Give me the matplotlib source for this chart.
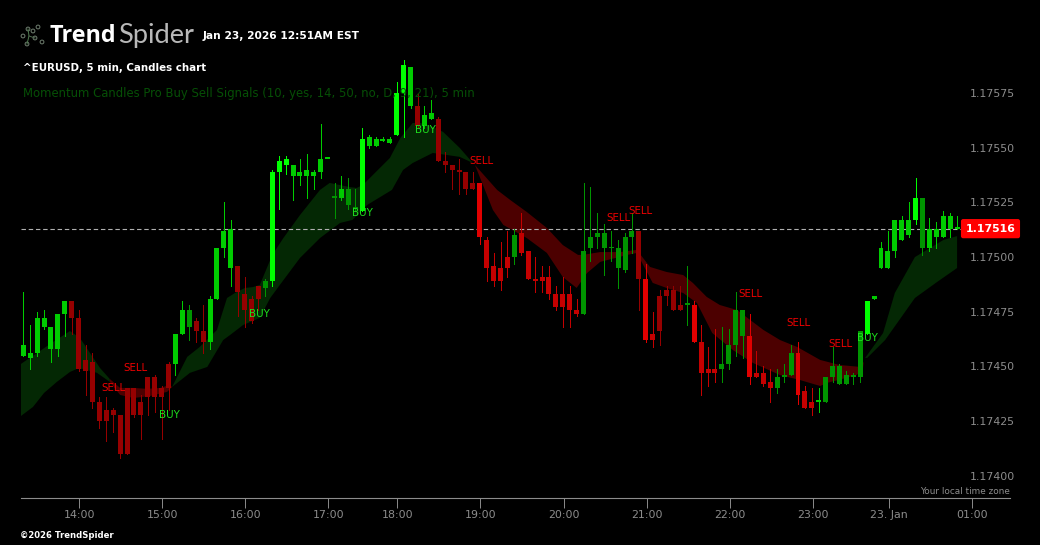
import matplotlib
matplotlib.use('Agg')
import matplotlib.pyplot as plt
import numpy as np
from matplotlib.patches import Circle

# prices are stored in 1e-5 above 1.17000
BASE = 1.17

opens = [455,454,456,468,458,458,474,480,472,453,
         452,434,430,430,428,440,440,434,445,445,
         440,451,451,465,468,471,466,461,481,504,
         495,496,483,481,487,486,489,539,542,537,
         537,537,537,539,545,527,527,524,522,521,
         551,551,553,552,556,575,569,569,560,563,
         563,544,542,540,539,534,534,508,496,495,
         500,500,511,503,490,491,491,483,483,483,
         476,474,504,509,504,504,495,494,509,512,
         490,465,482,485,485,478,478,478,461,449,
         449,449,451,460,464,464,447,447,443,440,
         445,446,456,439,434,434,434,445,442,442,
         445,445,465,481,495,495,503,508,510,517,
         504,504,509,509,513,513]
closes = [460,456,472,472,468,474,480,472,449,448,
          434,425,425,428,410,410,428,428,436,436,
          436,440,465,476,476,466,461,481,504,512,
          513,484,476,471,481,489,539,544,545,542,
          539,540,539,545,545,528,531,531,523,554,
          555,554,554,554,575,588,587,560,565,566,
          544,542,540,539,531,531,509,495,489,489,
          495,510,502,490,489,489,483,477,477,476,
          474,503,509,511,511,504,504,509,512,490,
          462,462,466,482,476,476,478,461,447,447,
          447,451,460,476,476,445,445,442,440,445,
          446,456,437,431,431,434,445,450,450,446,
          446,466,480,482,504,503,517,517,517,527,
          527,513,513,519,519,513]
highs = [484,469,475,476,468,474,480,480,476,460,
         456,436,436,431,428,440,440,437,445,446,
         441,452,465,480,478,472,478,482,504,525,
         517,496,491,482,487,490,540,546,546,542,
         545,547,540,561,545,534,537,536,531,559,
         556,555,555,555,580,590,587,575,569,572,
         564,548,542,545,539,539,534,509,502,507,
         512,513,520,503,500,496,496,487,491,487,
         481,534,532,520,515,512,508,511,520,512,
         497,475,485,487,487,487,496,480,469,459,
         467,468,467,484,476,474,457,450,449,449,
         451,460,461,441,440,440,445,459,451,448,
         447,466,480,482,507,512,517,519,525,536,
         527,518,516,521,520,519]
lows = [455,449,455,467,452,455,464,465,448,437,
        431,422,416,420,408,410,427,417,428,429,
        417,430,446,465,462,461,456,458,481,500,
        487,473,468,470,476,482,487,522,538,526,
        533,527,531,536,545,518,526,522,521,521,
        550,551,553,552,556,555,568,559,559,563,
        544,539,531,529,529,531,506,489,487,485,
        491,497,501,490,484,484,481,476,468,468,
        473,474,498,504,492,498,486,493,502,476,
        461,459,460,478,476,476,469,461,437,441,
        443,443,449,455,454,442,445,441,434,438,
        443,446,433,431,428,429,434,443,442,442,
        442,443,465,481,495,495,500,508,509,515,
        501,503,504,509,509,513]
# momentum strength per candle, 1 weak .. 3 strong
momentum = [2,2,2,2,2,2,2,1,1,1,
            1,1,1,1,1,1,1,1,1,1,
            1,1,2,2,1,1,1,2,2,2,
            2,1,1,1,1,1,3,3,3,2,
            2,2,2,2,2,1,2,1,1,3,
            2,2,2,2,3,3,2,1,2,2,
            1,1,1,1,1,1,3,2,2,2,
            2,1,2,2,2,2,2,2,2,2,
            2,1,1,1,1,1,1,1,1,1,
            3,2,1,1,1,1,1,3,2,2,
            2,1,1,1,1,3,2,2,2,1,
            1,1,3,2,2,2,1,1,1,1,
            1,1,3,2,2,2,2,2,2,3,
            1,2,2,2,2,2]

# cloud edges: (candle position, price) per stretch
green1_top_x = [-0.33,2,4.3,6.75,8.2,9.64,11.1,12.5]
green1_top = [451.2,456.2,461.2,466.2,463.0,456.2,449.3,444.3]
green1_bot_x = [-0.33,1.4,3.0,4.87,6.75,7.76,8.63,10.65,12.5]
green1_bot = [427.4,431.5,437.9,443.0,447.5,448.9,448.9,447.1,443.0]
red1_top_x = [12.5,14,15.9,17.9,19.8,21.2]
red1_top = [444.3,440.2,440.2,439.8,440.2,441.6]
red1_bot_x = [12.5,14,15.9,18.3,20.8,21.5]
red1_bot = [443,437,435.6,436.5,438.4,440.6]
green2_top_x = [21.5,23.7,25.5,28,29.45,30.6,32.05,33.2,34.2,36,37.6,40,42.9,44.3,47.2,48.2,49.1,
                53,54.5,56.3,57.4,59.2,60.7,63.1,65]
green2_top = [440.6,454.4,458.9,466.7,481.3,483.6,485.9,486.3,487.3,501,508.7,519.2,530.7,533.9,532,
              531.6,533,545.3,554.4,561.3,561.3,559.5,557.2,549.9,543]
green2_bot_x = [21.5,24.1,26.6,28.9,29.9,31.8,34.2,35.7,37.1,40,42.9,45.8,47.6,49.7,53.3,54.9,56.3,
                59.2,63.1,65]
green2_bot = [440.6,447.1,449.8,462.1,464.4,469,472.2,481.3,487.3,499.6,508.7,515.6,517,523.8,530.7,
              539.8,543,547.6,545.8,543]
red2_top_x = [65.3,68.5,70.4,72.8,75.7,78,80.2,80.9,83.4,86.3,88.7,90.6,93,95.4,96.8,98.8,100.7,103.2,
              107,109.4,111.9,115.2,118,121,121.5]
red2_top = [542.1,530.7,526.1,520.6,513.3,505.5,501,501,502.3,502.3,503.3,495.5,493.2,491.8,488.2,481.8,
            478.1,475.8,466.7,462.1,458.9,453,450.7,449.8,452.1]
red2_bot_x = [65.3,67.9,69.4,72.8,75.7,78,80,81.5,83.4,87.3,88.7,91,93,95.4,97.4,99.6,102.6,105.5,109.4,
              112.3,115.2,116.2,120.5,121.4]
red2_bot = [542.1,521.5,514.7,508.7,501.9,490.9,485.9,492.7,497.8,501,501.9,488.2,485.9,483.6,479,465.3,
            457.5,451.6,446.1,443.8,441.1,442.5,446.1,449.3]
green3_top_x = [121.7,124.3,126,128.9,133,135]
green3_top = [453.9,465.3,483.6,500,507.8,509.6]
green3_bot_x = [122,124.6,128.9,132.1,135]
green3_bot = [453.9,462.1,481.3,488.6,495]

sell_x = [16.15,13,66.2,86.1,89.2,105.1,112.1,118.1]
sell_y = [449.3,440.2,544,518,521,483,470,460.3]
buy_x = [21.1,34.1,49,58.2,122.1]
buy_y = [428,474,520,558,463]

hour_pos = [8.1,20.1,32.1,44.1,54.1,66.1,78.1,90.1,102.15,114.15,125.1,137.15]
hour_labels = ['14:00','15:00','16:00','17:00','18:00','19:00','20:00','21:00','22:00','23:00','23. Jan','01:00']
price_ticks = [1.17400,1.17425,1.17450,1.17475,1.17500,1.17525,1.17550,1.17575]
last_line = 513

GREENS = {1:'#009400', 2:'#00cc00', 3:'#00ff00'}
REDS = {1:'#960000', 2:'#c40000', 3:'#e00000'}
CLOUD_G = '#042804'
CLOUD_R = '#4c0000'
GREY = '#8c8c8c'


def to_price(v):
    return BASE + np.asarray(v, dtype=float)*1e-5


fig = plt.figure(figsize=(10.4,5.45), dpi=100, facecolor='black')
ax = fig.add_axes([21/1040, 47/545, 989/1040, 498/545], facecolor='none')
ax.set_xlim(-0.33, 142.65)
ax.set_ylim(to_price(389.9), to_price(617.5))

for tx, t, bx, b, col in [(green1_top_x, green1_top, green1_bot_x, green1_bot, CLOUD_G),
                          (red1_top_x, red1_top, red1_bot_x, red1_bot, CLOUD_R),
                          (green2_top_x, green2_top, green2_bot_x, green2_bot, CLOUD_G),
                          (red2_top_x, red2_top, red2_bot_x, red2_bot, CLOUD_R),
                          (green3_top_x, green3_top, green3_bot_x, green3_bot, CLOUD_G)]:
    ax.fill(np.r_[tx, bx[::-1]], to_price(np.r_[t, b[::-1]]), color=col, lw=0, zorder=1)

ax.axhline(to_price(last_line), xmin=0, xmax=(962-21)/989, color='#b0b0b0', lw=0.8, dashes=(4,2.5), zorder=2)

idx = np.arange(len(opens))
o, c, h, l = map(np.array, (opens, closes, highs, lows))
cols = [GREENS[m] if c[i] >= o[i] else REDS[m] for i, m in enumerate(momentum)]
ax.vlines(idx, to_price(l), to_price(h), colors=cols, lw=0.72, zorder=3, snap=True, antialiased=False)
bot = np.minimum(o, c)
hgt = np.maximum(np.abs(c-o), 0.8)*1e-5
ax.bar(idx, hgt, bottom=to_price(bot), width=0.72, color=cols, lw=0, zorder=4)

for x, y in zip(sell_x, sell_y):
    ax.text(x, to_price(y), 'SELL', color='#ee0000', fontsize=7.4, ha='center', va='center', zorder=5)
for x, y in zip(buy_x, buy_y):
    ax.text(x, to_price(y), 'BUY', color='#1ee01e', fontsize=7.4, ha='center', va='center', zorder=5)

for s in ['top','left','right']:
    ax.spines[s].set_visible(False)
ax.spines['bottom'].set_color(GREY)
ax.spines['bottom'].set_linewidth(0.8)
ax.set_xticks(hour_pos)
ax.set_xticklabels(hour_labels)
ax.tick_params(axis='x', colors=GREY, labelsize=7.9, length=7, width=0.7, pad=2)
ax.yaxis.tick_right()
ax.set_yticks(price_ticks)
ax.set_yticklabels(['%.5f' % p for p in price_ticks], ha='left')
ax.tick_params(axis='y', colors=GREY, labelsize=7.9, length=0, pad=-28.8)

ax.text((990.5-21)/989, to_price(last_line), '1.17516', transform=ax.get_yaxis_transform(),
        color='white', fontsize=7.9, fontweight='bold', ha='center', va='center', zorder=7,
        bbox=dict(boxstyle='round,pad=0.42,rounding_size=0.2', fc='#ff0000', ec='none'))


def ftext(px, py, s, **kw):
    fig.text(px/1040, 1-py/545, s, va='center', **kw)


ftext(50, 36, 'Trend', color='white', fontsize=16.8, family='Open Sans', fontweight='bold')
ftext(118, 36, 'Spider', color='#b8b8b8', fontsize=19.6, family='Lato', fontweight='normal')
ftext(203, 36, 'Jan 23, 2026 12:51AM EST', color='white', fontsize=7.7, fontweight='bold')
ftext(23, 68, '^EURUSD, 5 min, Candles chart', color='white', fontsize=7.4, fontweight='bold')
ftext(23, 94, 'Momentum Candles Pro Buy Sell Signals (10, yes, 14, 50, no, D, 9, 21), 5 min',
      color='#064f06', fontsize=8.4, zorder=0)
ftext(20, 536, '\u00a92026 TrendSpider', color='white', fontsize=6.1, fontweight='bold')
ftext(1010, 492, 'Your local time zone', color=GREY, fontsize=6.4, ha='right')

# logo mark
overlay = fig.add_axes([0,0,1,1], facecolor='none')
overlay.set_xlim(0,1040)
overlay.set_ylim(545,0)
overlay.axis('off')
overlay.set_zorder(-1)
overlay.plot([27,29,28],[44,36,29], color='#4f7a4f', lw=0.7)
overlay.plot([29,35],[36,38], color='#4f6a4f', lw=0.7)
for cx, cy in [(23,36),(27,44),(28,29),(38,27),(42,42),(35,38),(33,31)]:
    overlay.add_patch(Circle((cx,cy), 1.9, fc='none', ec='#6f7f6f', lw=0.7))

fig.savefig('out.png', dpi=100, facecolor='black')
